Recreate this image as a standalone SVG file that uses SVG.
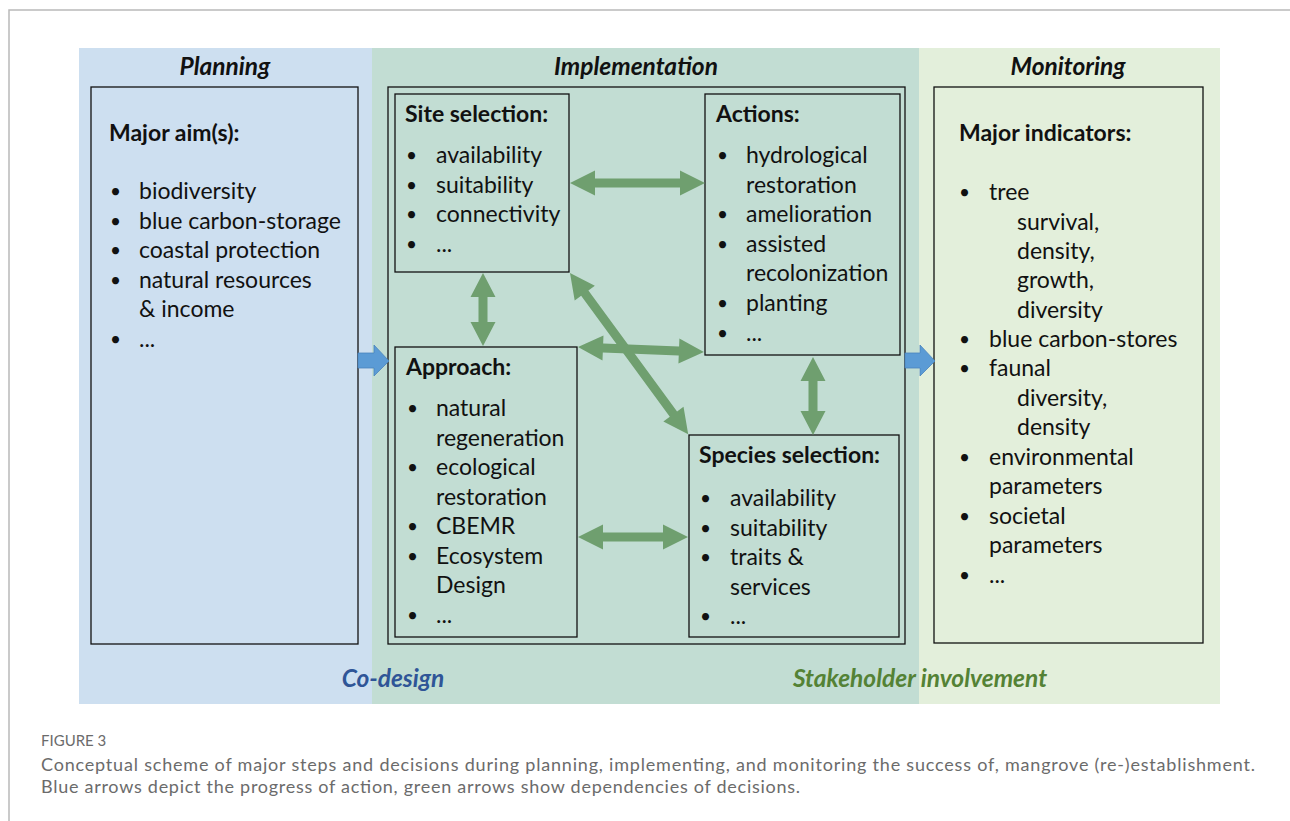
<svg xmlns="http://www.w3.org/2000/svg" width="1290" height="821" viewBox="0 0 1290 821">
<style>
  .t { font-family: Lato, "Open Sans", "Liberation Sans", sans-serif; font-size: 23px; fill: #111; }
  .b { font-weight: bold; }
  .bu { font-size: 19px; }
  .h { font-family: Lato, "Open Sans", "Liberation Sans", sans-serif; font-size: 24.5px; font-weight: bold; font-style: italic; fill: #111; text-anchor: middle; }
  .box { stroke: #111; stroke-width: 1.3; }
  .ga { fill: #6f9f6f; }
  .ba { fill: #5b9bd5; stroke: #4a84bd; stroke-width: 0.8; }
  .cap { font-family: Lato, "Open Sans", "Liberation Sans", sans-serif; fill: #6b6b6b; }
</style>
<rect width="1290" height="821" fill="#fff"/>
<path d="M9 821 V10 H1290" fill="none" stroke="#b9b9b9" stroke-width="1.5"/>

<g id="panels">
  <rect x="79" y="48" width="293" height="656" fill="#cddff0"/>
  <rect x="372" y="48" width="547" height="656" fill="#c2ddd3"/>
  <rect x="919" y="48" width="301" height="656" fill="#e3efdb"/>
  <text class="h" x="225" y="75">Planning</text>
  <text class="h" x="636" y="75">Implementation</text>
  <text class="h" x="1068" y="75">Monitoring</text>
  <rect class="box" x="388" y="87" width="517" height="557" fill="none"/>
</g>

<g id="planning">
  <rect class="box" x="91" y="87" width="267" height="557" fill="#cddff0"/>
  <text class="t b" x="109" y="141">Major aim(s):</text>
  <g class="t">
    <text class="bu" x="110" y="198">•</text><text x="139" y="199">biodiversity</text>
    <text class="bu" x="110" y="228">•</text><text x="139" y="229">blue carbon-storage</text>
    <text class="bu" x="110" y="257">•</text><text x="139" y="258">coastal protection</text>
    <text class="bu" x="110" y="287">•</text><text x="139" y="288">natural resources</text>
    <text x="139" y="317">&amp; income</text>
    <text class="bu" x="110" y="346">•</text><text x="139" y="347">...</text>
  </g>
</g>

<g id="site-selection">
  <rect class="box" x="395" y="94" width="174" height="178" fill="#c2ddd3"/>
  <text class="t b" x="405" y="122">Site selection:</text>
  <g class="t">
    <text class="bu" x="406" y="162">•</text><text x="436" y="163">availability</text>
    <text class="bu" x="406" y="192">•</text><text x="436" y="193">suitability</text>
    <text class="bu" x="406" y="221">•</text><text x="436" y="222">connectivity</text>
    <text class="bu" x="406" y="251">•</text><text x="436" y="252">...</text>
  </g>
</g>

<g id="actions">
  <rect class="box" x="705" y="94" width="195" height="261" fill="#c2ddd3"/>
  <text class="t b" x="716" y="122">Actions:</text>
  <g class="t">
    <text class="bu" x="717" y="162">•</text><text x="746" y="163">hydrological</text>
    <text x="746" y="193">restoration</text>
    <text class="bu" x="717" y="221">•</text><text x="746" y="222">amelioration</text>
    <text class="bu" x="717" y="251">•</text><text x="746" y="252">assisted</text>
    <text x="746" y="281">recolonization</text>
    <text class="bu" x="717" y="310">•</text><text x="746" y="311">planting</text>
    <text class="bu" x="717" y="340">•</text><text x="746" y="341">...</text>
  </g>
</g>

<g id="approach">
  <rect class="box" x="395" y="347" width="182" height="290" fill="#c2ddd3"/>
  <text class="t b" x="406" y="375">Approach:</text>
  <g class="t">
    <text class="bu" x="407" y="415">•</text><text x="436" y="416">natural</text>
    <text x="436" y="446">regeneration</text>
    <text class="bu" x="407" y="474">•</text><text x="436" y="475">ecological</text>
    <text x="436" y="505">restoration</text>
    <text class="bu" x="407" y="533">•</text><text x="436" y="534">CBEMR</text>
    <text class="bu" x="407" y="563">•</text><text x="436" y="564">Ecosystem</text>
    <text x="436" y="593">Design</text>
    <text class="bu" x="407" y="622">•</text><text x="436" y="623">...</text>
  </g>
</g>

<g id="species-selection">
  <rect class="box" x="689" y="435" width="210" height="202" fill="#c2ddd3"/>
  <text class="t b" x="699" y="463">Species selection:</text>
  <g class="t">
    <text class="bu" x="700" y="505">•</text><text x="730" y="506">availability</text>
    <text class="bu" x="700" y="535">•</text><text x="730" y="536">suitability</text>
    <text class="bu" x="700" y="564">•</text><text x="730" y="565">traits &amp;</text>
    <text x="730" y="595">services</text>
    <text class="bu" x="700" y="623">•</text><text x="730" y="624">...</text>
  </g>
</g>

<g id="monitoring">
  <rect class="box" x="934" y="87" width="269" height="556" fill="#e3efdb"/>
  <text class="t b" x="959" y="141">Major indicators:</text>
  <g class="t">
    <text class="bu" x="959" y="199">•</text><text x="989" y="200">tree</text>
    <text x="1017" y="230">survival,</text>
    <text x="1017" y="259">density,</text>
    <text x="1017" y="288">growth,</text>
    <text x="1017" y="318">diversity</text>
    <text class="bu" x="959" y="346">•</text><text x="989" y="347">blue carbon-stores</text>
    <text class="bu" x="959" y="375">•</text><text x="989" y="376">faunal</text>
    <text x="1017" y="406">diversity,</text>
    <text x="1017" y="435">density</text>
    <text class="bu" x="959" y="464">•</text><text x="989" y="465">environmental</text>
    <text x="989" y="494">parameters</text>
    <text class="bu" x="959" y="523">•</text><text x="989" y="524">societal</text>
    <text x="989" y="553">parameters</text>
    <text class="bu" x="959" y="582">•</text><text x="989" y="583">...</text>
  </g>
</g>

<g id="connectors">
  <path class="ba" d="M358 353 H374 V345 L389 361 L374 376 V368 H358 Z"/>
  <path class="ba" d="M905 353 H920 V345 L935 361 L920 376 V368 H905 Z"/>
  <path class="ga" transform="translate(570,183)" d="M0 0 L25 -12.5 L25 -4.5 L110 -4.5 L110 -12.5 L135 0 L110 12.5 L110 4.5 L25 4.5 L25 12.5 Z"/>
  <path class="ga" transform="translate(483,273) rotate(90)" d="M0 0 L24 -12.5 L24 -4.5 L49 -4.5 L49 -12.5 L73 0 L49 12.5 L49 4.5 L24 4.5 L24 12.5 Z"/>
  <path class="ga" transform="translate(578,347) rotate(2.27)" d="M0 0 L25 -12.5 L25 -4.5 L101 -4.5 L101 -12.5 L126 0 L101 12.5 L101 4.5 L25 4.5 L25 12.5 Z"/>
  <path class="ga" transform="translate(570,273) rotate(53.77)" d="M0 0 L25 -12.5 L25 -4.5 L175 -4.5 L175 -12.5 L200 0 L175 12.5 L175 4.5 L25 4.5 L25 12.5 Z"/>
  <path class="ga" transform="translate(813,357) rotate(90)" d="M0 0 L24 -12.5 L24 -4.5 L54 -4.5 L54 -12.5 L78 0 L54 12.5 L54 4.5 L24 4.5 L24 12.5 Z"/>
  <path class="ga" transform="translate(578,537)" d="M0 0 L25 -12.5 L25 -4.5 L85 -4.5 L85 -12.5 L110 0 L85 12.5 L85 4.5 L25 4.5 L25 12.5 Z"/>
</g>

<g id="footer-labels">
  <text class="h" x="393" y="687" style="fill:#2f5597">Co-design</text>
  <text class="h" x="920" y="687" style="fill:#548235">Stakeholder involvement</text>
</g>

<g id="caption">
  <text class="cap" x="41" y="746" font-size="15">FIGURE 3</text>
  <text class="cap" x="41" y="771" font-size="18" textLength="1214">Conceptual scheme of major steps and decisions during planning, implementing, and monitoring the success of, mangrove (re-)establishment.</text>
  <text class="cap" x="41" y="793" font-size="18" textLength="759">Blue arrows depict the progress of action, green arrows show dependencies of decisions.</text>
</g>
</svg>
